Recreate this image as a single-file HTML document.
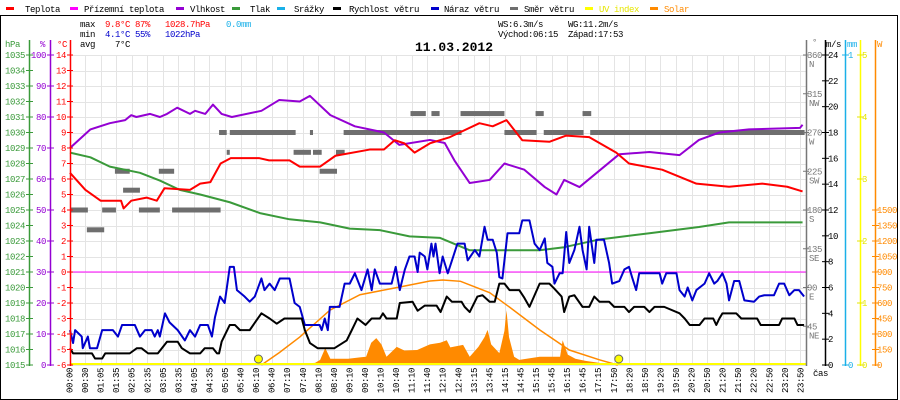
<!DOCTYPE html>
<html><head><meta charset="utf-8"><style>
html,body{margin:0;padding:0;background:#fff;}
svg{display:block;font-family:"Liberation Mono",monospace;}
</style></head><body>
<svg id="c" width="900" height="400" viewBox="0 0 900 400" xmlns="http://www.w3.org/2000/svg"></svg>
<script>
// ---- data ----
const timeLabels=["00:00","00:30","01:05","01:35","02:05","02:35","03:05","03:35","04:05","04:35","05:05","05:40","06:10","06:40","07:10","07:40","08:10","08:40","09:10","09:40","10:10","10:40","11:10","11:40","12:10","12:40","13:15","13:45","14:15","14:45","15:15","15:45","16:15","16:45","17:15","17:50","18:20","18:50","19:20","19:50","20:20","20:50","21:20","21:50","22:20","22:50","23:20","23:50"];
const tempTimes=["00:00","00:30","01:00","01:40","01:45","02:00","02:30","02:50","03:05","03:55","04:15","04:35","04:55","05:15","06:10","06:30","07:10","07:30","08:10","08:40","09:47","10:15","10:36","10:55","11:15","11:45","12:24","13:22","13:48","14:15","14:46","15:39","16:12","16:57","17:50","18:15","19:20","20:27","21:31","22:36","23:25","23:55"];
const tempValues=[6.4,5.3,4.6,4.6,4.1,4.6,4.8,4.6,5.4,5.3,5.7,5.8,7.0,7.35,7.35,7.2,7.2,6.8,6.8,7.5,7.9,7.9,8.5,8.3,7.7,8.3,8.7,9.6,9.4,9.8,8.5,8.4,8.8,8.7,7.7,7.0,6.6,5.7,5.5,5.7,5.5,5.2];
const humTimes=["00:00","00:40","01:18","01:48","02:00","02:10","02:37","02:56","03:10","03:30","03:55","04:05","04:25","04:40","04:57","05:17","06:15","06:50","07:30","07:50","08:30","09:18","10:15","10:45","11:45","12:14","12:33","13:03","13:42","14:11","14:50","15:30","15:53","16:08","16:38","17:56","18:55","19:54","20:32","21:12","22:10","23:50","23:55"];
const humValues=[70,76,78,79,80.6,80,81,80,81,83,81,82,81,84,81,80,82,85.5,85,86.8,80.6,77,75,71,72.6,71.6,66,58.7,59.7,65,63,57.4,55,59.7,57.4,68,68.7,67.7,72.6,75,76,76.5,77.5];
const presTimes=["00:00","00:40","01:18","02:17","02:56","03:35","04:15","05:13","06:12","07:10","08:10","09:08","10:07","11:05","12:05","13:03","14:01","15:20","16:08","17:17","18:55","20:32","21:31","23:55"];
const presValues=[1028.7,1028.4,1027.8,1027.4,1026.9,1026.3,1026,1025.5,1024.8,1024.4,1024.2,1023.8,1023.7,1023.3,1023.2,1022.4,1022.4,1022.4,1022.6,1023.1,1023.5,1023.9,1024.2,1024.2];
const gustTimes=["00:00","00:06","00:10","00:23","00:25","00:35","00:39","00:53","01:03","01:24","01:34","01:42","02:07","02:17","02:27","02:40","02:46","02:52","02:56","03:06","03:15","03:31","03:45","03:55","04:05","04:15","04:30","04:38","04:44","04:54","05:03","05:13","05:21","05:27","05:42","05:52","06:02","06:15","06:21","06:31","06:41","06:51","07:10","07:20","07:30","07:40","08:09","08:13","08:19","08:25","08:29","08:48","08:58","09:08","09:18","09:31","09:43","09:51","09:57","10:07","10:30","10:38","10:46","10:56","11:05","11:15","11:21","11:25","11:35","11:40","11:48","11:52","11:56","12:04","12:10","12:20","12:39","12:53","12:59","13:13","13:22","13:32","13:38","13:48","13:56","14:01","14:07","14:17","14:40","14:46","15:00","15:10","15:20","15:30","15:35","15:45","15:49","15:59","16:05","16:12","16:18","16:28","16:38","16:44","16:52","16:57","17:07","17:11","17:26","17:36","17:42","17:56","18:06","18:15","18:21","18:29","18:35","19:15","19:20","19:28","19:48","19:54","20:04","20:10","20:19","20:27","20:43","20:52","21:02","21:08","21:18","21:26","21:31","21:41","21:51","22:01","22:20","22:30","22:40","22:59","23:09","23:19","23:29","23:39","23:48","23:58"];
const gustValues=[2.7,1.7,2.7,2.2,1.3,2.2,1.3,1.3,2.7,2.7,2.2,3.1,3.1,2.2,2.7,2.7,2.2,2.7,2.2,4.0,3.3,2.7,1.9,2.7,2.2,3.1,3.1,2.2,3.7,5.3,4.8,7.6,7.6,5.8,5.3,4.9,5.3,6.7,5.8,6.3,5.8,6.7,6.7,4.8,4.5,3.1,3.1,2.7,3.6,2.7,4.5,4.5,6.3,6.3,7.1,5.8,7.4,5.8,7.4,6.3,6.3,7.6,5.8,7.4,8.4,8.4,7.2,8.7,8.4,7.4,9.4,8.4,9.4,7.1,8.4,7.1,9.4,9.4,8.1,8.9,8.4,10.7,9.7,9.7,8.7,6.8,6.7,10.2,10.2,11.2,11.2,9.4,8.9,9.8,7.9,7.6,6.3,7.1,7.1,10.3,7.9,8.9,10.7,8.9,7.4,10.7,7.9,9.7,9.7,7.9,6.3,6.5,7.4,7.6,6.8,5.8,7.1,7.1,6.3,7.1,7.1,5.8,5.3,6.0,5.0,5.8,6.3,7.1,6.3,6.5,7.1,6.3,5.0,6.5,6.5,5.0,4.9,5.3,5.4,5.4,6.3,6.3,5.4,5.8,5.8,5.3];
const windTimes=["00:00","00:06","00:43","00:49","01:03","01:09","01:57","02:11","02:20","02:33","02:52","03:00","03:10","03:31","03:39","03:55","04:15","04:24","04:40","04:48","04:52","04:57","05:13","05:23","05:33","05:52","06:06","06:15","06:31","06:45","07:00","07:34","07:40","07:50","08:05","08:38","09:02","09:12","09:23","09:39","09:51","10:07","10:13","10:20","10:40","10:46","11:11","11:21","11:35","11:58","12:06","12:18","12:28","12:47","12:53","13:03","13:18","13:28","13:42","13:52","14:01","14:11","14:21","14:40","14:50","15:00","15:20","15:39","15:49","16:03","16:08","16:18","16:28","16:44","16:57","17:07","17:17","17:36","17:46","18:06","18:15","18:25","18:45","18:55","19:05","19:24","19:54","20:04","20:14","20:33","20:43","21:00","21:06","21:12","21:18","21:45","21:55","22:26","22:33","23:09","23:15","23:39","23:45","23:58"];
const windValues=[1.3,0.9,0.9,0.5,0.5,0.9,0.9,1.3,1.3,0.9,0.9,1.3,1.8,1.8,1.3,0.9,0.9,1.3,1.3,0.9,0.9,1.8,3.1,3.1,2.7,2.7,3.5,4.0,3.6,3.2,3.6,3.6,2.7,1.7,1.3,1.3,1.9,2.7,3.6,3.1,3.6,3.6,4.0,3.6,3.6,4.8,4.9,4.2,4.6,4.6,4.1,5.3,4.9,4.9,4.5,4.1,5.3,5.4,4.9,4.9,6.3,6.3,5.8,5.8,5.2,4.5,6.3,6.3,5.9,5.3,4.1,5.3,5.4,4.5,4.5,5.3,4.9,4.9,4.5,4.5,4.1,4.5,4.5,4.1,4.5,4.5,4.0,3.6,3.1,3.1,3.6,3.6,3.1,3.6,4.0,4.0,3.6,3.6,3.1,3.1,3.6,3.6,3.1,3.1];
const solarTimes=["06:15","07:00","08:00","08:10","08:20","08:30","09:05","09:30","09:40","09:50","10:00","10:10","10:20","10:40","10:55","11:20","11:45","12:05","12:18","12:25","12:50","13:03","13:20","13:32","13:38","13:45","14:01","14:11","14:15","14:20","14:30","14:40","15:20","16:00","16:05","16:15","16:30","16:50","17:17","17:40","17:53"];
const solarValues=[0,5,20,50,165,60,60,75,80,215,260,200,80,175,140,145,200,215,240,170,195,80,175,270,340,200,115,330,530,270,80,50,80,80,240,100,60,40,20,5,0];
const theoTimes=["06:15","06:50","07:30","08:29","09:28","10:46","11:45","12:10","12:45","13:42","14:21","15:20","16:18","17:17","17:53"];
const theoValues=[0,120,270,530,680,755,813,823,810,700,560,340,145,50,0];
const dirStart=["00:00","00:33","01:03","01:28","01:44","02:15","02:54","03:20","04:52","05:07","05:13","07:18","07:50","07:56","08:09","08:41","08:56","11:07","11:48","11:58","12:45","14:11","15:12","15:28","16:44","16:59"];
const dirEnd=["00:35","01:07","01:30","01:57","02:17","02:56","03:24","04:55","05:07","05:13","07:22","07:52","07:56","08:13","08:43","08:58","11:58","11:37","12:04","12:47","14:11","15:14","15:28","16:46","17:01","23:59"];
const dirValues=[180,157,180,225,203,180,225,180,270,247,270,247,270,247,225,247,270,292,292,270,292,270,292,270,292,270];

// ---- scales ----
const X0=70,PXM=0.5105;
function tmin(s){const p=s.split(':');return +p[0]*60+ +p[1];}
const xT=s=>X0+tmin(s)*PXM;
const yC=v=>272-v*15.5;
const yH=v=>365-v*3.1;
const yP=v=>365-(v-1015)*15.5;
const yV=v=>365-v*12.917;
const yD=v=>365-v*0.8611;
const yW=v=>365-v*0.10333;
const yU=v=>365-v*62;

const svg=document.getElementById('c');
const NS='http://www.w3.org/2000/svg';
function mk(tag,at,parent){const e=document.createElementNS(NS,tag);for(const k in at)e.setAttribute(k,at[k]);(parent||svg).appendChild(e);return e;}
function txt(x,y,s,fill,extra){const e=mk('text',Object.assign({x:x,y:y,fill:fill,'font-size':9,'letter-spacing':'-0.4'},extra||{}));e.textContent=s;return e;}

// frame
let e=mk('rect',{x:0.5,y:15.5,width:897,height:384,fill:'none',stroke:'#000','stroke-width':1});



// grid
const grid=mk('g',{stroke:'#e4e4e4','stroke-width':1});


for(let v=-6;v<=14;v++){mk('line',{x1:70,x2:806,y1:Math.round(yC(v))+0.5,y2:Math.round(yC(v))+0.5},grid);}
timeLabels.forEach((l,i)=>{const x=Math.round(69.5+i*15.55)+0.5;mk('line',{x1:x,x2:x,y1:55,y2:365},grid);});

// zero line
e=mk('line',{x1:70,x2:806,y1:yC(0),y2:yC(0),stroke:'#ff00ff','stroke-width':1});



// direction bars
const dg=mk('g',{fill:'#6e6e6e'});


dirValues.forEach((d,i)=>{
  const r=mk('rect',{x:xT(dirStart[i]),y:yD(d)-2.5,width:Math.max(2,xT(dirEnd[i])-xT(dirStart[i])),height:5},dg);
  
  
});

// solar fill
let pts=solarTimes.map((t,i)=>xT(t)+','+yW(solarValues[i])).join(' ');
e=mk('polygon',{points:xT(solarTimes[0])+','+365+' '+pts+' '+xT(solarTimes[solarTimes.length-1])+',365',fill:'#ff8a00'});


// theoretical solar
e=mk('polyline',{points:theoTimes.map((t,i)=>xT(t)+','+yW(theoValues[i])).join(' '),fill:'none',stroke:'#ff8a00','stroke-width':1.5});



function line(times,vals,fy,color,name,step){
  let p=[];
  times.forEach((t,i)=>{p.push(xT(t)+','+fy(vals[i]));});
  const l=mk('polyline',{points:p.join(' '),fill:'none',stroke:color,'stroke-width':2,'stroke-linejoin':'round'});
  
  
}
line(presTimes,presValues,yP,'#3a9a3a','pressure-line');
line(humTimes,humValues,yH,'#9400d3','humidity-line');
line(tempTimes,tempValues,yC,'#ff0000','temperature-line');
line(gustTimes,gustValues,yV,'#0000cc','wind-gust-line');
line(windTimes,windValues,yV,'#000000','wind-speed-line');

// UV baseline
e=mk('line',{x1:70,x2:806,y1:364,y2:364,stroke:'#ffff00','stroke-width':2});


// sunrise / sunset
e=mk('circle',{cx:xT("06:15")-3,cy:359,r:4,fill:'#ffff00',stroke:'#666','stroke-width':1});


e=mk('circle',{cx:xT("17:53")+1,cy:359,r:4,fill:'#ffff00',stroke:'#666','stroke-width':1});



// left axes
function axis(x,color,name){const l=mk('line',{x1:x+0.5,x2:x+0.5,y1:40,y2:366,stroke:color,'stroke-width':1.5});}
axis(29,'#3a9a3a','pressure-axis');
axis(50,'#9400d3','humidity-axis');
axis(70,'#ff0000','temperature-axis');
axis(806,'#777','direction-axis');
axis(825,'#000','wind-speed-axis');
axis(845,'#1ab0e8','rain-axis');
axis(860,'#ffff00','uv-axis');
axis(875,'#ff8a00','solar-axis');

for(let p=1015;p<=1035;p++){const y=yP(p);mk('line',{x1:26,x2:33,y1:y,y2:y,stroke:'#3a9a3a'});txt(25,y+3,String(p),'#3a9a3a',{'text-anchor':'end'});}
for(let h=0;h<=100;h+=10){const y=yH(h);mk('line',{x1:47,x2:54,y1:y,y2:y,stroke:'#9400d3'});txt(46,y+3,String(h),'#9400d3',{'text-anchor':'end'});}
for(let c=-6;c<=14;c++){const y=yC(c);mk('line',{x1:67,x2:73,y1:y,y2:y,stroke:'#ff0000'});txt(66,y+3,String(c),'#ff0000',{'text-anchor':'end'});}
txt(5,47,'hPa','#3a9a3a');txt(40,47,'%','#9400d3');txt(57,47,'°C','#ff0000');

// right axes
const dirNames=['','NE','E','SE','S','SW','W','NW','N'];
for(let d=45;d<=360;d+=45){const y=yD(d);mk('line',{x1:803,x2:809,y1:y,y2:y,stroke:'#777'});txt(807,y+3,String(d),'#777',{'text-anchor':'start'});txt(809,y+12,dirNames[d/45],'#777');}
for(let v=0;v<=24;v+=2){const y=yV(v);mk('line',{x1:822,x2:829,y1:y,y2:y,stroke:'#000'});txt(828,y+3,String(v),'#000');}
[0,1].forEach(m=>{const y=365-m*310;mk('line',{x1:842,x2:849,y1:y,y2:y,stroke:'#1ab0e8'});txt(848,y+3,String(m),'#1ab0e8');});
for(let u=0;u<=5;u++){const y=yU(u);mk('line',{x1:857,x2:864,y1:y,y2:y,stroke:'#e6e600'});txt(862,y+3,String(u),'#e6e600');}
for(let w=0;w<=1500;w+=150){const y=yW(w);mk('line',{x1:872,x2:879,y1:y,y2:y,stroke:'#ff8a00'});txt(877,y+3,String(w),'#ff8a00');}
txt(812,45,'°','#777');txt(826,47,'m/s','#000');txt(847,47,'mm','#1ab0e8');txt(877,47,'W','#ff8a00');
txt(813,376,'čas','#000');

// time labels
timeLabels.forEach((l,i)=>{const x=69.5+i*15.55+3;const t=txt(0,0,l,'#000',{'text-anchor':'end',transform:'translate('+x+',368) rotate(-90)'});
  
  });

// legend
const leg=[['Teplota','#ff0000',6,25],['Přízemní teplota','#ff00ff',70,84],['Vlhkost','#9400d3',176,190],['Tlak','#3a9a3a',232,250],['Srážky','#1ab0e8',277,294],['Rychlost větru','#000',333,349],['Náraz větru','#0000cc',431,444],['Směr větru','#6e6e6e',510,524],['UV index','#ffff00',585,599],['Solar','#ff8a00',650,664]];
leg.forEach(a=>{const g=mk('g',{});
  
  
  mk('rect',{x:a[2],y:7,width:8,height:3,fill:a[1]},g);
  const t=txt(a[3],12,a[0],a[1]==='#ffff00'?'#e6e600':(a[1]==='#ff8a00'?'#ff8a00':'#000'),{});g.appendChild(t);});

// stats
txt(80,27,'max','#000');txt(105,27,'9.8°C','#ff0000');txt(135,27,'87%','#ff0000');txt(165,27,'1028.7hPa','#ff0000');txt(226,27,'0.0mm','#1ab0e8');
txt(80,37,'min','#000');txt(105,37,'4.1°C','#0000cc');txt(135,37,'55%','#0000cc');txt(165,37,'1022hPa','#0000cc');
txt(80,47,'avg','#000');txt(115,47,'7°C','#000');
txt(498,27,'WS:6.3m/s','#000');txt(568,27,'WG:11.2m/s','#000');
txt(498,37,'Východ:06:15','#000');txt(568,37,'Západ:17:53','#000');
e=txt(415,51,'11.03.2012','#000',{'font-size':13,'font-weight':'bold','letter-spacing':'0'});


</script>
</body></html>
